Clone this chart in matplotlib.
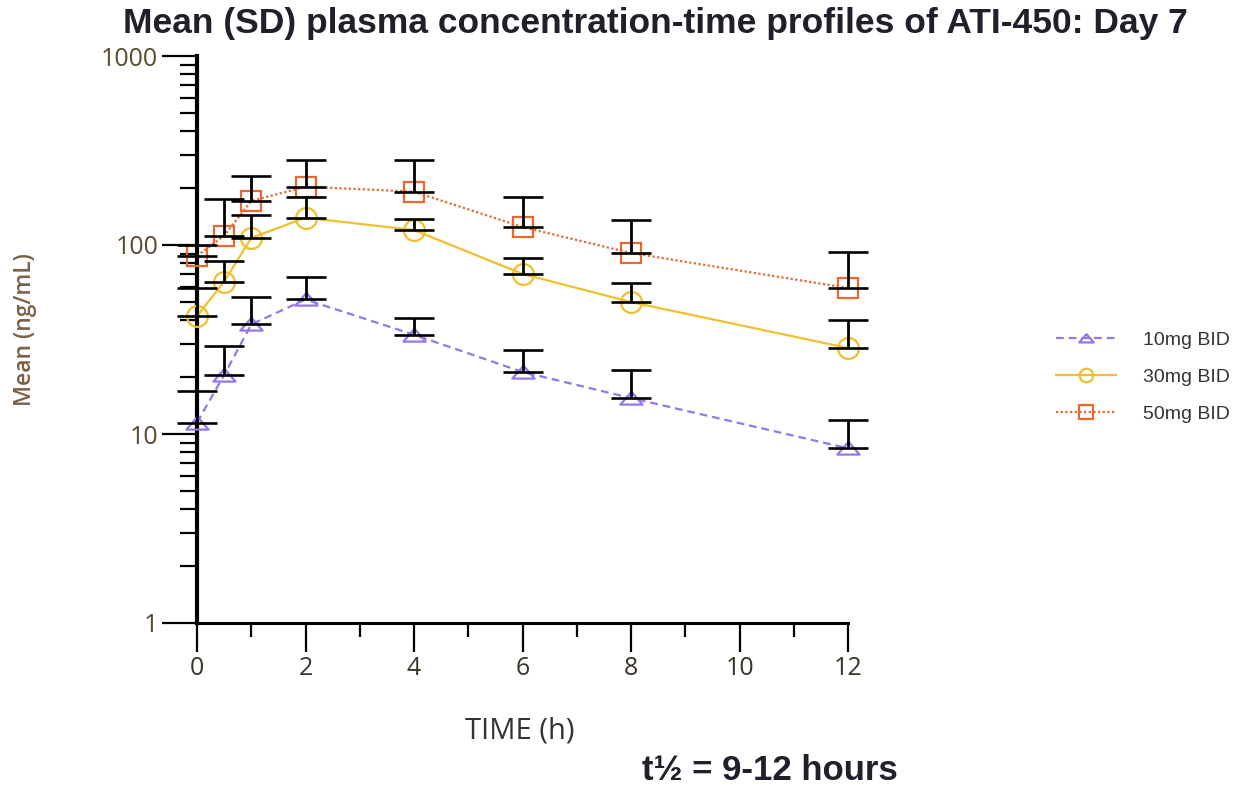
import matplotlib
matplotlib.use("Agg")
import matplotlib.pyplot as plt
import numpy as np
from matplotlib.path import Path
from matplotlib.ticker import LogLocator, FixedLocator, NullFormatter

# ---- data ----
times = [0, 0.5, 1, 2, 4, 6, 8, 12]
labels = ["10mg BID", "30mg BID", "50mg BID"]
mean_10 = [11.5, 20.5, 38, 51.5, 33.5, 21.3, 15.5, 8.4]
sd_10 = [5.4, 8.8, 15.2, 16.5, 7.4, 6.5, 6.3, 3.5]
mean_30 = [42, 64, 109, 139.5, 120, 70.3, 49.9, 28.5]
sd_30 = [17, 18, 35, 40.5, 17, 15.1, 13, 11.6]
mean_50 = [87.5, 112, 171, 203.5, 191.5, 124.5, 90.7, 59.2]
sd_50 = [12.5, 62.5, 61.6, 78, 90, 55, 45, 32.6]
x_ticks = [0, 2, 4, 6, 8, 10, 12]
y_ticks = [1, 10, 100, 1000]
y_ticklabels = ["1", "10", "100", "1000"]

colors = ["#9378E6", "#F0C02C", "#E8682E"]
styles = [(0, (3.5, 2.2)), "-", (0, (1, 1.1))]
tri = Path([(-1, -0.55), (1, -0.55), (0, 0.6), (-1, -0.55)],
           [Path.MOVETO, Path.LINETO, Path.LINETO, Path.CLOSEPOLY])
markers = [tri, "o", "s"]
msizes = [16, 15, 15]

fig = plt.figure(figsize=(12.4, 7.92), dpi=100)
ax = fig.add_axes([197/1240, 1-623/792, (848-197)/1240, (623-56)/792])

means = [mean_10, mean_30, mean_50]
sds = [sd_10, sd_30, sd_50]
for m, s, c, ls, mk, ms, lab in zip(means, sds, colors, styles, markers, msizes, labels):
    ax.plot(times, m, color=c, linestyle=ls, linewidth=1.6, marker=mk,
            markersize=ms, markerfacecolor="none", markeredgecolor=c,
            markeredgewidth=1.6, label=lab, zorder=3, clip_on=False)
    eb = ax.errorbar(times, m, yerr=[np.zeros(len(s)), s], fmt="none",
                     ecolor="black", elinewidth=2.0, capsize=14.5, capthick=1.9,
                     zorder=4)
    for art in eb.lines[1] + eb.lines[2]:
        art.set_clip_on(False)

ax.set_yscale("log")
ax.set_ylim(1, 1000)
ax.set_xlim(0, 12)
for sp in ["top", "right"]:
    ax.spines[sp].set_visible(False)
ax.spines["left"].set_linewidth(3.0)
ax.spines["bottom"].set_linewidth(2.2)

ax.xaxis.set_major_locator(FixedLocator(x_ticks))
ax.xaxis.set_minor_locator(FixedLocator([1, 3, 5, 7, 9, 11]))
ax.set_xticklabels([str(t) for t in x_ticks])
ax.tick_params(axis="x", which="major", length=21, width=1.6, direction="out",
               labelsize=18, labelcolor="#3a3328", pad=3)
ax.tick_params(axis="x", which="minor", length=10, width=1.6, direction="out")

ax.yaxis.set_major_locator(FixedLocator(y_ticks))
ax.set_yticklabels(y_ticklabels)
ax.yaxis.set_minor_locator(LogLocator(base=10, subs=np.arange(2, 10)))
ax.yaxis.set_minor_formatter(NullFormatter())
ax.tick_params(axis="y", which="major", length=25, width=1.6, direction="out",
               labelsize=18, labelcolor="#5a4a30", pad=3)
ax.tick_params(axis="y", which="minor", length=12, width=1.6, direction="out")

for lab in ax.get_xticklabels() + ax.get_yticklabels():
    lab.set_family("Open Sans")

fig.text(25/1240, 1-330/792, "Mean (ng/mL)", rotation=90, ha="center", va="center",
         fontsize=16.5, color="#7a6048", family="Open Sans", fontweight="semibold")
fig.text(520/1240, 1-731/792, "TIME (h)", ha="center", va="center",
         fontsize=21, color="#333333", family="Open Sans")
fig.text(655/1240, 1-24/792, "Mean (SD) plasma concentration-time profiles of ATI-450: Day 7",
         ha="center", va="center", fontsize=25.5, fontweight="bold", color="#231f2a",
         family=["Liberation Sans Narrow", "Liberation Sans", "DejaVu Sans"])
fig.text(770/1240, 1-770/792, "t½ = 9-12 hours", ha="center", va="center",
         fontsize=25, fontweight="bold", color="#231f2a",
         family=["Liberation Sans", "DejaVu Sans"])

leg = fig.legend(loc="upper left", bbox_to_anchor=(1038/1240, 1-314/792),
                 frameon=False, handlelength=3.1, handletextpad=1.4,
                 labelspacing=1.0, markerscale=0.65,
                 prop={"family": "Liberation Sans", "size": 14})
for t in leg.get_texts():
    t.set_color("#333333")

fig.savefig("out.png", dpi=100)
